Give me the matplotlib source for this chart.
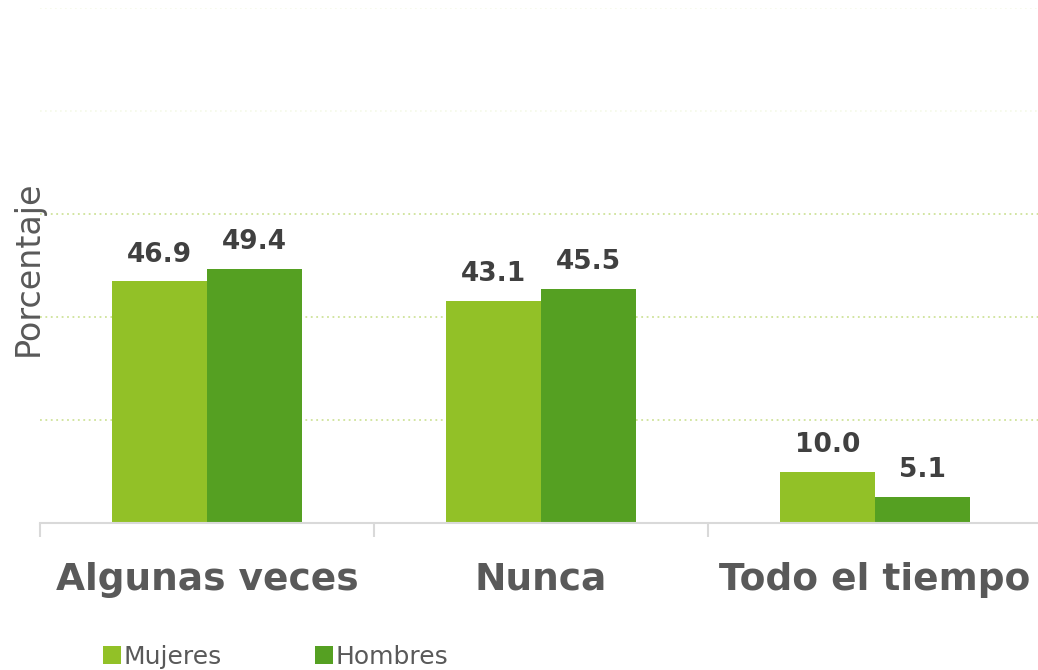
import numpy as np
from matplotlib import pyplot as plt

categories = ["Algunas veces", "Nunca", "Todo el tiempo"]
mujeres = [46.9, 43.1, 10.0]
hombres = [49.4, 45.5, 5.1]
series_names = ["Mujeres", "Hombres"]

color_m = "#92C127"
color_h = "#55A022"
text_dark = "#404040"
text_gray = "#595959"

fig = plt.figure(figsize=(10.38, 6.70), dpi=100)
ax = fig.add_axes([40 / 1038, (670 - 523) / 670, 1002 / 1038, 515 / 670])

x = np.arange(len(categories))
w = 0.285
b1 = ax.bar(x - w / 2, mujeres, w, color=color_m, label=series_names[0], zorder=2)
b2 = ax.bar(x + w / 2, hombres, w, color=color_h, label=series_names[1], zorder=2)

for bars, vals in ((b1, mujeres), (b2, hombres)):
    for rect, v in zip(bars, vals):
        ax.annotate(f"{v:.1f}", (rect.get_x() + rect.get_width() / 2, v),
                    xytext=(0, 10), textcoords="offset points",
                    ha="center", va="bottom", fontsize=19, fontweight="bold",
                    color=text_dark)

ax.set_xlim(-0.5, 2.5)
ax.set_ylim(0, 100)

# gridlines
for gy in (20, 40, 60):
    ax.axhline(gy, color="#CFE39A", linestyle=(0, (1, 2)), linewidth=1.3, zorder=1)
for gy in (80, 100):
    ax.axhline(gy, color="#F5F9E8", linestyle=(0, (1, 2)), linewidth=1.2, zorder=1)

for s in ("top", "right", "left"):
    ax.spines[s].set_visible(False)
ax.spines["bottom"].set_color("#D9D9D9")
ax.spines["bottom"].set_linewidth(1.5)

ax.set_yticks([])
ax.set_xticks([-0.5, 0.5, 1.5, 2.5])
ax.set_xticklabels([])
ax.tick_params(axis="x", length=10, width=1.5, color="#D9D9D9")
ax.set_xticks(x, minor=True)
ax.set_xticklabels(categories, minor=True, fontsize=27, fontweight="bold", color=text_gray)
ax.tick_params(axis="x", which="minor", length=0, pad=28)

ax.set_ylabel("Porcentaje", fontsize=24, color=text_gray, labelpad=4)
ax.yaxis.set_label_coords(0.005, 0.495)

leg = fig.legend(loc="lower left", bbox_to_anchor=(80 / 1038, -0.032), ncol=2,
                 frameon=False, fontsize=18, handlelength=0.75, handleheight=0.75,
                 handletextpad=0.1, columnspacing=3.7)
for t in leg.get_texts():
    t.set_color(text_gray)

fig.savefig("out.png", dpi=100)
